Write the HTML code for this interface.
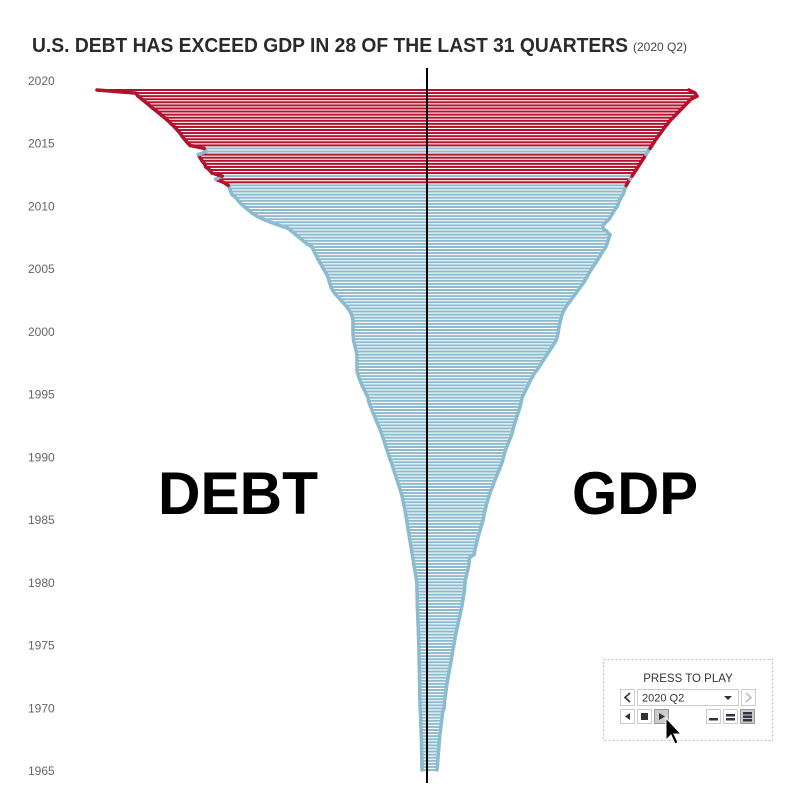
<!DOCTYPE html>
<html><head><meta charset="utf-8"><style>
html,body{margin:0;padding:0;background:#fff;}
body{width:800px;height:806px;overflow:hidden;font-family:"Liberation Sans",sans-serif;}
svg{display:block;}
</style></head><body>
<svg id="chart" width="800" height="806" viewBox="0 0 800 806" xmlns="http://www.w3.org/2000/svg">
<text x="32" y="52" font-family="Liberation Sans, sans-serif" font-weight="bold" font-size="20" fill="#2b2b2b" textLength="596" lengthAdjust="spacingAndGlyphs">U.S. DEBT HAS EXCEED GDP IN 28 OF THE LAST 31 QUARTERS</text>
<text x="633" y="51" font-family="Liberation Sans, sans-serif" font-size="12" fill="#444">(2020 Q2)</text>
<g id="yaxis"></g>
<g id="bars"></g>
<g id="outline"></g>
<line x1="427" y1="68" x2="427" y2="783" stroke="#000" stroke-width="2"/>
<text x="238" y="514" text-anchor="middle" font-family="Liberation Sans, sans-serif" font-weight="bold" font-size="60" fill="#000" textLength="160" lengthAdjust="spacingAndGlyphs">DEBT</text>
<text x="635" y="514" text-anchor="middle" font-family="Liberation Sans, sans-serif" font-weight="bold" font-size="60" fill="#000" textLength="126" lengthAdjust="spacingAndGlyphs">GDP</text>
<g>
<rect x="603.5" y="659.5" width="169" height="81" fill="#fff" stroke="#bbb" stroke-dasharray="2,2"/>
<text x="688" y="682" text-anchor="middle" font-family="Liberation Sans, sans-serif" font-size="11.5" fill="#333">PRESS TO PLAY</text>
<g><rect x="620.5" y="689.5" width="14" height="16" fill="#fff" stroke="#ccc"/><path d="M630 693 L625 697.5 L630 702" fill="none" stroke="#333" stroke-width="1.6"/></g>
<g><rect x="637.5" y="689.5" width="101" height="16" fill="#fff" stroke="#ccc"/><text x="642" y="701.5" font-family="Liberation Sans, sans-serif" font-size="11" fill="#333">2020 Q2</text><path d="M724 696 L732 696 L728 700 Z" fill="#333"/></g>
<g><rect x="741.5" y="689.5" width="14" height="16" fill="#fff" stroke="#ccc"/><path d="M746 693 L751 697.5 L746 702" fill="none" stroke="#bbb" stroke-width="1.6"/></g>
<g><rect x="620.5" y="709.5" width="14" height="14" fill="#fff" stroke="#ccc"/><path d="M630 713 L625 716.5 L630 720 Z" fill="#333"/></g>
<g><rect x="637.5" y="709.5" width="14" height="14" fill="#fff" stroke="#ccc"/><rect x="641" y="713" width="7" height="7" fill="#333"/></g>
<g><rect x="654.5" y="709.5" width="14" height="14" fill="#ccc" stroke="#999"/><path d="M659 713 L665 716.5 L659 720 Z" fill="#333"/></g>
<g><rect x="706.5" y="709.5" width="14" height="14" fill="#fff" stroke="#ccc"/><rect x="709" y="718" width="9" height="2.5" fill="#334"/></g>
<g><rect x="723.5" y="709.5" width="14" height="14" fill="#fff" stroke="#ccc"/><rect x="726" y="714" width="9" height="2.5" fill="#334"/><rect x="726" y="718" width="9" height="2.5" fill="#334"/></g>
<g><rect x="740.5" y="709.5" width="14" height="14" fill="#ccc" stroke="#999"/><rect x="743" y="712" width="9" height="2.5" fill="#334"/><rect x="743" y="715.5" width="9" height="2.5" fill="#334"/><rect x="743" y="719" width="9" height="2.5" fill="#334"/></g>
<path d="M666 718 L666 740 L671 735 L675 744 L678 742.5 L674 734 L681 734 Z" fill="#000" stroke="#fff" stroke-width="1"/>
</g>
</svg>
<script>
const yearTicks = [1965,1970,1975,1980,1985,1990,1995,2000,2005,2010,2015,2020];
// values in trillions of dollars, quarterly from 1965 Q1 to 2020 Q2
const gdpValues = [
.80,.82,.84,.86, .88,.90,.92,.94, .96,.98,1.00,1.02, 1.05,1.08,1.11,1.14, 1.17,1.20,1.23,1.26,
1.36,1.38,1.40,1.42, 1.46,1.50,1.53,1.56, 1.60,1.64,1.68,1.72, 1.77,1.82,1.87,1.91, 1.95,1.99,2.03,2.07,
2.12,2.16,2.20,2.24, 2.30,2.35,2.40,2.45, 2.50,2.56,2.62,2.67, 2.72,2.78,2.82,2.86, 2.90,2.94,2.98,3.01,
3.02,3.04,3.08,3.14, 3.20,3.26,3.32,3.36, 3.38,3.40,3.76,3.80, 3.86,3.92,3.98,4.04, 4.10,4.18,4.26,4.32,
4.40,4.48,4.52,4.56, 4.62,4.68,4.74,4.80, 4.88,4.96,5.04,5.12, 5.22,5.32,5.42,5.52, 5.62,5.72,5.82,5.92,
6.00,6.08,6.14,6.20, 6.28,6.38,6.48,6.58, 6.68,6.78,6.84,6.90, 6.96,7.04,7.12,7.20, 7.28,7.36,7.44,7.50,
7.56,7.60,7.72,7.84, 7.96,8.08,8.20,8.32, 8.46,8.60,8.80,8.96, 9.12,9.28,9.44,9.60, 9.76,9.92,10.08,10.24,
10.36,10.44,10.48,10.52, 10.56,10.62,10.68,10.74, 10.80,10.90,11.04,11.20, 11.38,11.56,11.74,11.92, 12.10,12.28,12.46,12.62,
12.76,12.90,13.04,13.20, 13.36,13.52,13.68,13.84, 13.98,14.14,14.30,14.40, 14.48,14.56,14.64,14.40, 14.10,14.08,14.30,14.56,
14.72,14.86,15.00,15.20, 15.30,15.40,15.50,15.68, 15.76,15.84,15.94,16.08, 16.24,16.40,16.56,16.72, 16.88,17.04,17.20,17.36,
17.52,17.68,17.84,18.00, 18.16,18.32,18.50,18.68, 18.86,19.04,19.24,19.44, 19.68,19.92,20.16,20.40, 20.64,20.88,21.12,21.60,
21.44,20.96];
const debtValues = [
.40,.40,.41,.41, .42,.42,.43,.43, .44,.44,.45,.45, .46,.47,.48,.49, .50,.51,.52,.53,
.55,.56,.56,.57, .57,.58,.58,.59, .59,.60,.60,.61, .61,.62,.62,.63, .63,.63,.64,.64,
.64,.65,.66,.67, .68,.69,.70,.71, .72,.73,.74,.75, .76,.77,.78,.78, .79,.79,.80,.80,
.80,.82,.86,.90, .94,.98,1.02,1.06, 1.10,1.14,1.18,1.22, 1.26,1.30,1.34,1.38, 1.42,1.46,1.50,1.54,
1.58,1.62,1.66,1.70, 1.74,1.79,1.84,1.89, 1.94,2.00,2.06,2.14, 2.22,2.30,2.38,2.46, 2.54,2.62,2.70,2.78,
2.86,2.96,3.04,3.12, 3.20,3.28,3.36,3.44, 3.52,3.60,3.70,3.80, 3.90,4.00,4.10,4.20, 4.30,4.40,4.50,4.60,
4.68,4.72,4.84,4.96, 5.08,5.20,5.30,5.40, 5.48,5.56,5.60,5.60, 5.60,5.60,5.60,5.62, 5.66,5.72,5.78,5.84,
5.88,5.90,5.92,5.92, 5.92,5.92,5.92,5.96, 6.04,6.16,6.32,6.52, 6.74,6.96,7.18,7.40, 7.56,7.68,7.76,7.84,
7.92,8.00,8.16,8.30, 8.44,8.58,8.72,8.84, 8.96,9.08,9.20,9.60, 9.92,10.20,10.50,10.80, 11.10,11.80,12.50,13.10,
13.60,14.00,14.30,14.60, 14.86,15.10,15.30,15.60, 15.70,15.80,15.90,16.30, 16.90,16.38,17.20,17.40, 17.70,17.80,18.00,18.16,
18.30,17.66,17.82,18.96, 19.20,19.40,19.60,19.76, 19.98,20.20,20.46,20.72, 21.00,21.30,21.60,21.92, 22.20,22.50,22.80,23.12,
23.30,26.40];

const NS = 'http://www.w3.org/2000/svg';
const CX = 427, PX_PER_T = 12.5;
const N = gdpValues.length;
const BLUE = '#8bbbcf', RED = '#b3112c';
function xLeft(v){ return CX - v*PX_PER_T; }
function xRight(v){ return CX + v*PX_PER_T; }
function yBar(i){ return 770 - i*(680/(N-1)); }
function yLabel(yr){ return 81 + (2020-yr)*12.545; }

const yaxis = document.getElementById('yaxis');
yearTicks.forEach(yr=>{
  const t = document.createElementNS(NS,'text');
  t.setAttribute('x', 28);
  t.setAttribute('y', yLabel(yr)+4);
  t.setAttribute('font-size', '12');
  t.setAttribute('fill', '#666');
  t.setAttribute('font-family', 'Liberation Sans, sans-serif');
  t.textContent = yr;
  
  
  yaxis.appendChild(t);
});

const bars = document.getElementById('bars');
const outline = document.getElementById('outline');
for(let i=0;i<N;i++){
  const d = debtValues[i], g = gdpValues[i];
  const col = d > g ? RED : BLUE;
  const r = document.createElementNS(NS,'rect');
  r.setAttribute('x', xLeft(d));
  r.setAttribute('y', yBar(i)-1);
  r.setAttribute('width', xRight(g)-xLeft(d));
  r.setAttribute('height', 2);
  r.setAttribute('fill', col);
  
  
  bars.appendChild(r);
  if(i>0){
    const dp = debtValues[i-1], gp = gdpValues[i-1];
    [[xLeft(dp),xLeft(d)],[xRight(gp),xRight(g)]].forEach((pair,k)=>{
      const l = document.createElementNS(NS,'line');
      l.setAttribute('x1', pair[0]); l.setAttribute('y1', yBar(i-1));
      l.setAttribute('x2', pair[1]); l.setAttribute('y2', yBar(i));
      l.setAttribute('stroke', col);
      l.setAttribute('stroke-width', 3.5);
      l.setAttribute('stroke-linecap', 'round');
      
      
      outline.appendChild(l);
    });
  }
}
</script>
</body></html>
